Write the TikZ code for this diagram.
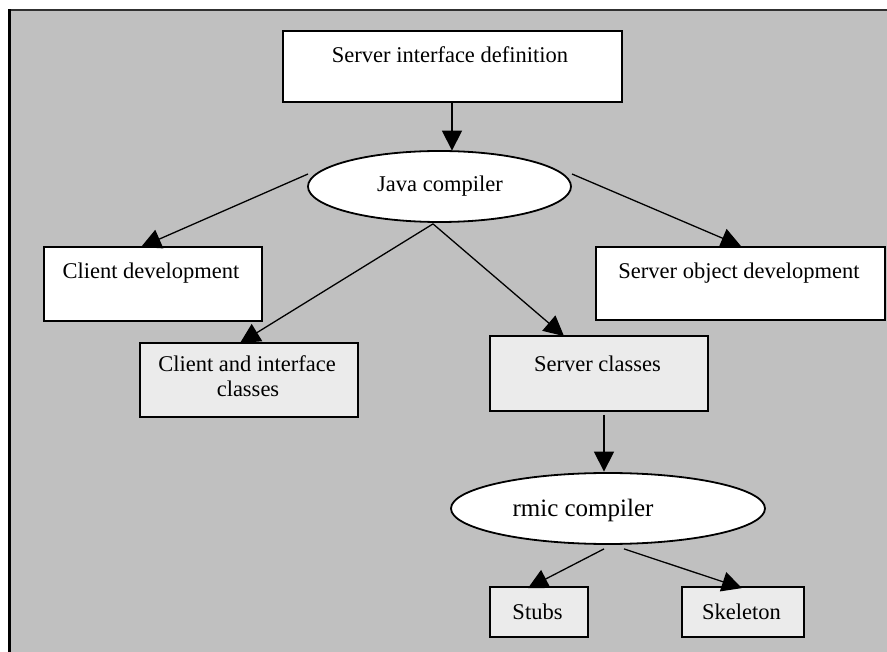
\documentclass[tikz,border=0pt]{standalone}
\usepackage{fontspec}
\setmainfont{Liberation Serif}
\usetikzlibrary{arrows.meta,calc,shapes.geometric}
\definecolor{bggray}{HTML}{C0C0C0}
\definecolor{lightbox}{HTML}{EBEBEB}
\definecolor{topline}{HTML}{303030}
\begin{document}
\begin{tikzpicture}[x=1pt,y=-1pt,
 box/.style={draw=black,line width=1.8pt,rectangle,inner sep=0pt},
 whitebox/.style={box,fill=white},
 greybox/.style={box,fill=lightbox},
 oval/.style={draw=black,line width=1.8pt,ellipse,fill=white,inner sep=0pt},
 lbl/.style={anchor=base,inner sep=0pt,font=\fontsize{22.5}{27}\selectfont},
 biglbl/.style={anchor=base,inner sep=0pt,font=\fontsize{25}{30}\selectfont},
 arr/.style={line width=1.3pt,-{Triangle[length=20pt,width=20pt]}}]
\useasboundingbox (0,0) rectangle (887,652);
% background frame
\begin{scope}
\clip (0,0) rectangle (887,652);
\fill[bggray] (9.5,10) rectangle (950,720);
\draw[topline,line width=1.6pt] (9.5,10) -- (950,10);
\draw[black,line width=2.2pt] (9.5,9.2) -- (9.5,720);
\end{scope}
% shapes
\node[whitebox,minimum width=339pt,minimum height=71pt] (sid) at (452.5,66.5) {};
\node[oval,minimum width=263pt,minimum height=71pt] (java) at (439.5,186.5) {};
\node[whitebox,minimum width=218pt,minimum height=74pt] (cd) at (153,284) {};
\node[whitebox,minimum width=289pt,minimum height=73pt] (sod) at (740.5,283.5) {};
\node[greybox,minimum width=218pt,minimum height=74pt] (cic) at (249,380) {};
\node[greybox,minimum width=218pt,minimum height=75pt] (sc) at (599,373.5) {};
\node[oval,minimum width=314pt,minimum height=71pt] (rmic) at (608,508.5) {};
\node[greybox,minimum width=98pt,minimum height=50pt] (stubs) at (539,612) {};
\node[greybox,minimum width=122pt,minimum height=50pt] (skel) at (743,612) {};
% labels
\node[lbl] (tsid) at (450,63) {Server interface definition};
\node[lbl] (tjava) at (440,191.5) {Java compiler};
\node[lbl] (tcd) at (151,279) {Client development};
\node[lbl] (tsod) at (739,279) {Server object development};
\node[lbl] (tcic1) at (247,371.5) {Client and interface};
\node[lbl] (tcic2) at (248,396.5) {classes};
\node[lbl] (tsc) at (597.5,371.5) {Server classes};
\node[biglbl] (trmic) at (583,516.5) {rmic compiler};
\node[lbl] (tstubs) at (537.5,619) {Stubs};
\node[lbl] (tskel) at (741.5,619) {Skeleton};
% connectors
\draw[arr] ($(sid.south)+(-0.5,-1)$) -- ($(java.north)+(12.5,0.5)$);
\draw[arr] ($(java.center)+(-131.5,-12.5)$) -- ($(cd.north)+(-12,1)$);
\draw[arr] ($(java.center)+(132.5,-12.5)$) -- ($(sod.north)+(0.5,0)$);
\draw[arr] ($(java.south)+(-6.5,1)$) -- ($(cic.north)+(-9,1)$);
\draw[arr] ($(java.south)+(-6.5,1)$) -- ($(sc.north)+(-35,1)$);
\draw[arr] ($(sc.south)+(5,3)$) -- ($(rmic.north)+(-4,-0.5)$);
\draw[arr] ($(rmic.south)+(-4,4)$) -- ($(stubs.north)+(-11,2)$);
\draw[arr] ($(rmic.south)+(16,4)$) -- ($(skel.north)+(-1,2)$);
\end{tikzpicture}
\end{document}
